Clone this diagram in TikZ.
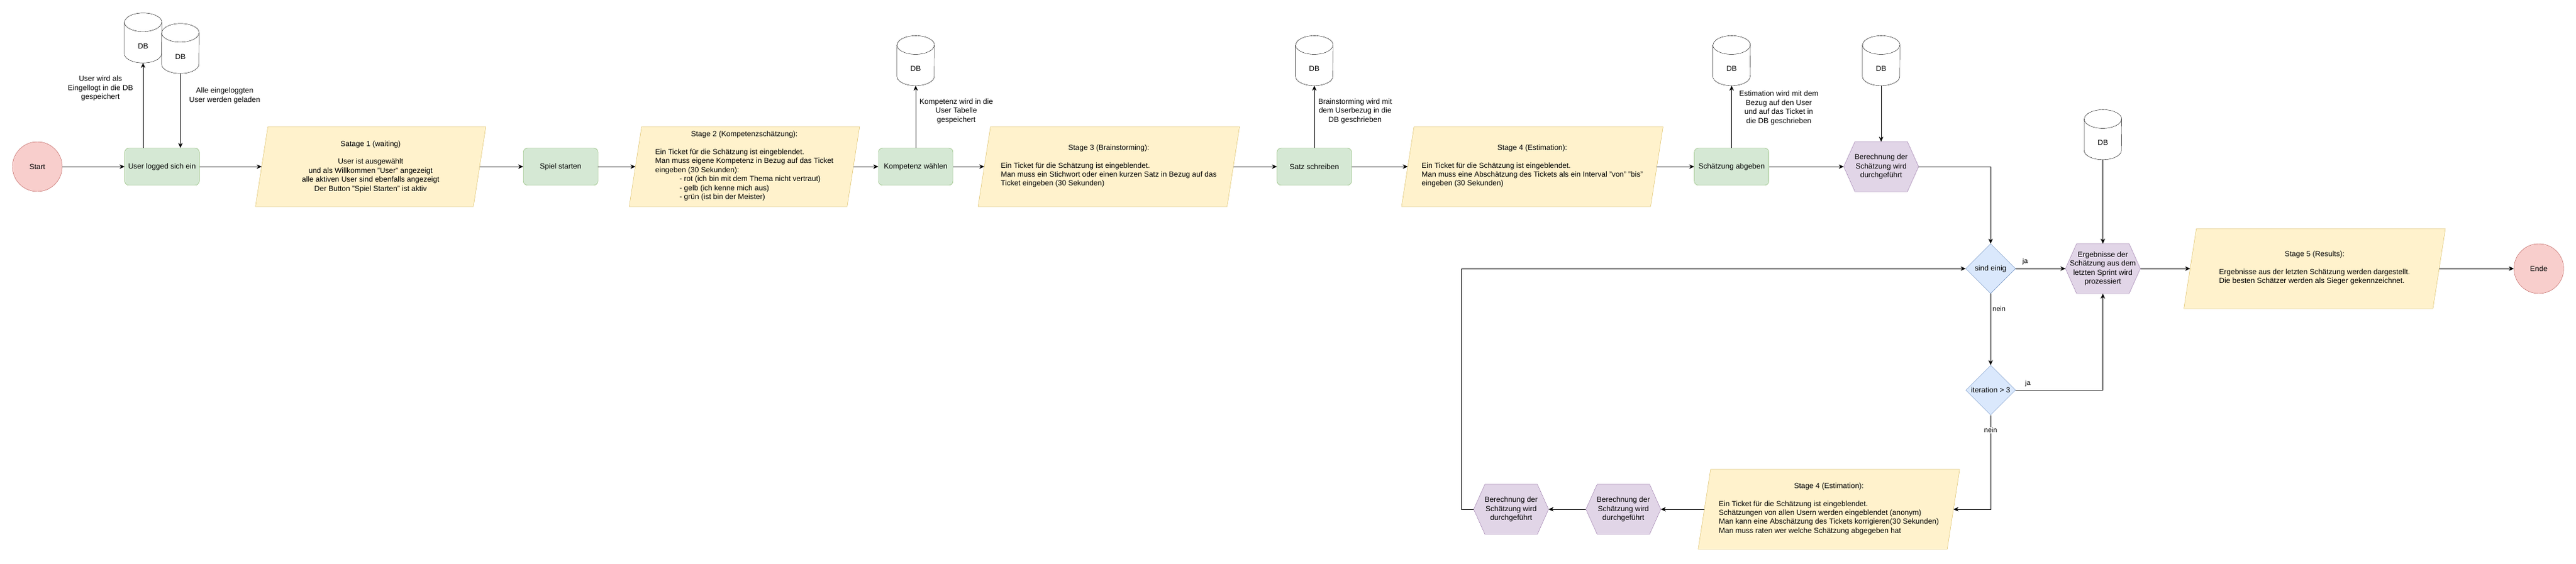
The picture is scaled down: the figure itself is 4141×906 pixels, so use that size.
\documentclass[tikz,border=0pt]{standalone}
\usepackage{fontspec}
\setmainfont{Liberation Sans}
\usetikzlibrary{positioning,shapes.geometric,backgrounds,arrows.meta}
\definecolor{startfill}{HTML}{F8CECC}
\definecolor{startline}{HTML}{B85450}
\definecolor{stepfill}{HTML}{D5E8D4}
\definecolor{stepline}{HTML}{82B366}
\definecolor{stagefill}{HTML}{FFF2CC}
\definecolor{stageline}{HTML}{D6B656}
\definecolor{calcfill}{HTML}{E1D5E7}
\definecolor{calcline}{HTML}{9673A6}
\definecolor{askfill}{HTML}{DAE8FC}
\definecolor{askline}{HTML}{6C8EBF}

\begin{document}
\begin{tikzpicture}[
        x=1pt, y=-1pt,
        font=\fontsize{12}{14.4}\selectfont,
        >={Stealth[length=8pt,width=7pt]},
        terminal/.style={ellipse, draw=startline, fill=startfill, minimum size=80pt, inner sep=0pt},
        stepbox/.style={draw=stepline, fill=stepfill, rounded corners=7pt, minimum width=120pt, minimum height=60pt, inner sep=0pt},
        stage/.style={minimum height=128pt, inner sep=0pt, align=center},
        calcbox/.style={minimum width=120pt, minimum height=80pt, inner sep=0pt, align=center},
        ask/.style={diamond, draw=askline, fill=askfill, minimum size=80pt, inner sep=0pt},
        db/.style={minimum width=60pt, minimum height=80pt, inner sep=0pt, text height=34.6pt, text depth=0pt},
        arrow/.style={->, draw=black},
        note/.style={align=center, inner sep=0pt},
        branch/.style={font=\fontsize{11}{13.2}\selectfont, inner sep=0pt},
    ]
    \useasboundingbox (0,0) rectangle (4141,906);

    % obere Reihe
    \node[terminal] (start) at (60,268) {Start};
    \node[stepbox, right=100pt of start] (login) {User logged sich ein};
    \node[stage, minimum width=350pt, right=100pt of login] (s1) {Satage 1 (waiting)\\[14.4pt]User ist ausgewählt\\und als Willkommen "User" angezeigt\\alle aktiven User sind ebenfalls angezeigt\\Der Button "Spiel Starten" ist aktiv};
    \node[stepbox, right=70pt of s1] (spiel) {Spiel starten};
    \node[stage, minimum width=350pt, right=60pt of spiel] (s2) {Stage 2 (Kompetenzschätzung):\\[14.4pt]\begin{tabular}[t]{@{}l@{}}Ein Ticket für die Schätzung ist eingeblendet.\\Man muss eigene Kompetenz in Bezug auf das Ticket\\eingeben (30 Sekunden):\\\hspace*{39pt}- rot (ich bin mit dem Thema nicht vertraut)\\\hspace*{39pt}- gelb (ich kenne mich aus)\\\hspace*{39pt}- grün (ist bin der Meister)\end{tabular}};
    \node[stepbox, right=40pt of s2] (komp) {Kompetenz wählen};
    \node[stage, minimum width=400pt, right=50pt of komp] (s3) {Stage 3 (Brainstorming):\\[14.4pt]\begin{tabular}[t]{@{}l@{}}Ein Ticket für die Schätzung ist eingeblendet.\\Man muss ein Stichwort oder einen kurzen Satz in Bezug auf das\\Ticket eingeben (30 Sekunden)\end{tabular}};
    \node[stepbox, right=70pt of s3] (satz) {Satz schreiben};
    \node[stage, minimum width=400pt, right=90pt of satz] (s4) {Stage 4 (Estimation):\\[14.4pt]\begin{tabular}[t]{@{}l@{}}Ein Ticket für die Schätzung ist eingeblendet.\\Man muss eine Abschätzung des Tickets als ein Interval "von" "bis"\\eingeben (30 Sekunden)\end{tabular}};
    \node[stepbox, right=60pt of s4] (abgabe) {Schätzung abgeben};
    \node[calcbox, right=120pt of abgabe] (calc) {Berechnung der\\Schätzung wird\\durchgeführt};

    % Datenbanken
    \node[db] (db1) at (230,61) {DB};
    \node[db] (db2) at (290,78) {DB};
    \node[db, above=100pt of komp] (db3) {DB};
    \node[db, above=100pt of satz] (db4) {DB};
    \node[db, above=100pt of abgabe] (db5) {DB};
    \node[db, above=90pt of calc] (db6) {DB};

    % Auswertung
    \node[ask] (sind) at (3200,432) {sind einig};
    \node[calcbox, right=80pt of sind] (res) {Ergebnisse der\\Schätzung aus dem\\letzten Sprint wird\\prozessiert};
    \node[db, above=135pt of res] (db7) {DB};
    \node[stage, minimum width=400pt, right=80pt of res] (s5) {Stage 5 (Results):\\[14.4pt]\begin{tabular}[t]{@{}l@{}}Ergebnisse aus der letzten Schätzung werden dargestellt.\\Die besten Schätzer werden als Sieger gekennzeichnet.\end{tabular}};
    \node[terminal, right=120pt of s5] (ende) {Ende};
    \node[ask, below=115pt of sind] (iter) {iteration > 3};

    % untere Reihe
    \node[stage, minimum width=400pt] (s4b) at (2940,819) {Stage 4 (Estimation):\\[14.4pt]\begin{tabular}[t]{@{}l@{}}Ein Ticket für die Schätzung ist eingeblendet.\\Schätzungen von allen Usern werden eingeblendet (anonym)\\Man kann eine Abschätzung des Tickets korrigieren(30 Sekunden)\\Man muss raten wer welche Schätzung abgegeben hat\end{tabular}};
    \node[calcbox, left=70pt of s4b] (calcA) {Berechnung der\\Schätzung wird\\durchgeführt};
    \node[calcbox, left=60pt of calcA] (calcB) {Berechnung der\\Schätzung wird\\durchgeführt};

    % Verbindungen
    \draw[arrow] (start.east) -- (login.west);
    \foreach \a/\b in {login/s1, s1/spiel, spiel/s2, s2/komp, komp/s3, s3/satz, satz/s4, s4/abgabe, abgabe/calc} {
            \draw[arrow] (\a.east) -- (\b.west);
        }
    \draw[arrow] (login.north -| db1) -- node[note, pos=0.7, left=16pt] {User wird als\\Eingellogt in die DB\\gespeichert} (db1.south);
    \draw[arrow] (db2.south) -- node[note, pos=0.3, right=14pt] {Alle eingeloggten\\User werden geladen} (db2 |- login.north);
    \draw[arrow] (komp.north) -- node[note, pos=0.59, right=6pt] {Kompetenz wird in die\\User Tabelle\\gespeichert} (db3.south);
    \draw[arrow] (satz.north) -- node[note, pos=0.59, right=6pt] {Brainstorming wird mit\\dem Userbezug in die\\DB geschrieben} (db4.south);
    \draw[arrow] (abgabe.north) -- node[note, pos=0.645, right=12pt] {Estimation wird mit dem\\Bezug auf den User\\und auf das Ticket in\\die DB geschrieben} (db5.south);
    \draw[arrow] (db6.south) -- (calc.north);

    \draw[arrow] (calc.east) -| (sind.north);
    \draw[arrow] (sind.east) -- node[branch, pos=0.19, above=6pt] {ja} (res.west);
    \draw[arrow] (db7.south) -- (res.north);
    \draw[arrow] (res.east) -- (s5.west);
    \draw[arrow] (s5.east) -- (ende.west);
    \draw[arrow] (sind.south) -- node[branch, pos=0.21, right=3pt] {nein} (iter.north);
    \draw[arrow] (iter.east) -| node[branch, pos=0.07, above=5pt] {ja} (res.south);
    \draw[arrow] (iter.south) |- node[branch, pos=0.08, fill=white, inner sep=1pt] {nein} (s4b.east);
    \draw[arrow] (s4b.west) -- (calcA.east);
    \draw[arrow] (calcA.west) -- (calcB.east);
    \draw[arrow] (calcB.west) -- ++(-20,0) |- (sind.west);

    % Formen im Hintergrund
    \begin{scope}[on background layer]
        \foreach \s in {s1,s2,s3,s4,s4b,s5} {
                \draw[draw=stageline, fill=stagefill] ([xshift=-10pt]\s.south west) -- ([xshift=10pt]\s.north west) -- ([xshift=10pt]\s.north east) -- ([xshift=-10pt]\s.south east) -- cycle;
            }
        \foreach \h in {calc,res,calcA,calcB} {
                \draw[draw=calcline, fill=calcfill] (\h.west) -- ([xshift=18pt]\h.north west) -- ([xshift=-18pt]\h.north east) -- (\h.east) -- ([xshift=-18pt]\h.south east) -- ([xshift=18pt]\h.south west) -- cycle;
            }
        \foreach \d in {db1,db2,db3,db4,db5,db6,db7} {
                \draw[fill=white] ([yshift=-15pt]\d.north west) -- ([yshift=15pt]\d.south west)
                    arc[start angle=180, end angle=360, x radius=30pt, y radius=15pt]
                    -- ([yshift=-15pt]\d.north east)
                    arc[start angle=0, end angle=180, x radius=30pt, y radius=15pt] -- cycle;
                \draw ([yshift=-15pt]\d.north west) arc[start angle=180, end angle=360, x radius=30pt, y radius=15pt];
            }
    \end{scope}

\end{tikzpicture}
\end{document}
